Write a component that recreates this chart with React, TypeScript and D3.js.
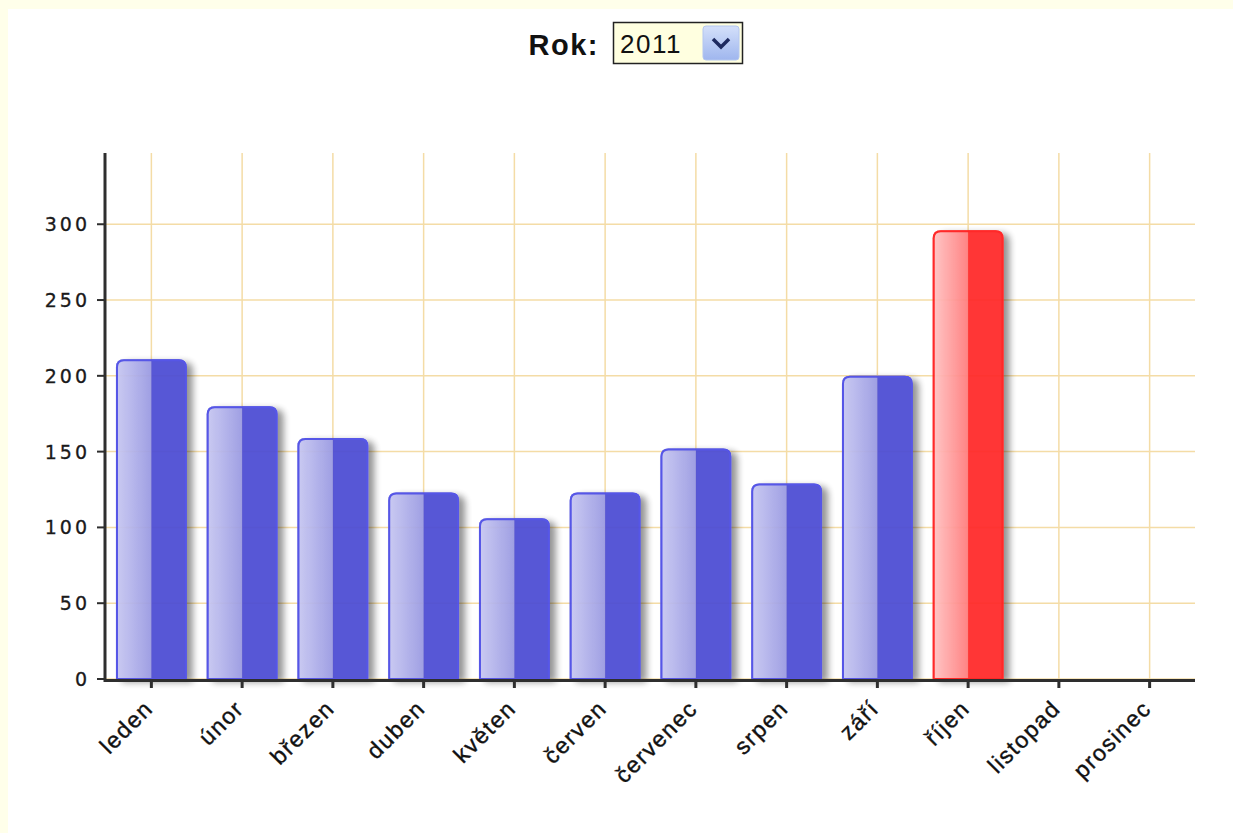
import * as d3 from 'd3';

const months = ['leden', 'únor', 'březen', 'duben', 'květen', 'červen', 'červenec', 'srpen', 'září', 'říjen', 'listopad', 'prosinec'];
const values = [211, 180, 159, 123, 106, 123, 152, 129, 200, 296, 0, 0];
const highlighted = 'říjen';
const yTicks = [0, 50, 100, 150, 200, 250, 300];
const years = ['2011'];

const W = 1233;
const H = 833;
const plot = { left: 105, right: 1195, top: 153, bottom: 679 };

const x = d3.scaleBand<string>().domain(months).range([plot.left + 1, plot.right]);
const y = d3.scaleLinear().domain([0, 347]).range([plot.bottom, plot.top]);
const barW = x.bandwidth() * 0.78;

const gridColor = '#f4dca6';
const axisColor = '#2e2e2e';

function barPath(x0: number, y0: number, w: number, y1: number, r: number) {
  const rr = Math.min(r, (y1 - y0) / 2);
  return `M${x0},${y1} V${y0 + rr} Q${x0},${y0} ${x0 + rr},${y0} H${x0 + w - rr} Q${x0 + w},${y0} ${x0 + w},${y0 + rr} V${y1} Z`;
}

export default function App() {
  return (
    <div style={{ position: 'fixed', inset: 0, background: '#ffffea' }}>
      <svg width={W} height={H} style={{ display: 'block' }} fontFamily="'DejaVu Sans', Verdana, sans-serif">
        <defs>
          <linearGradient id="blueLeft" x1="0" x2="1" y1="0" y2="0">
            <stop offset="0" stopColor="#c8c8f2" />
            <stop offset="1" stopColor="#9a9ae2" />
          </linearGradient>
          <linearGradient id="redLeft" x1="0" x2="1" y1="0" y2="0">
            <stop offset="0" stopColor="#ffc4c4" />
            <stop offset="1" stopColor="#ff7c7c" />
          </linearGradient>
          <linearGradient id="btn" x1="0" x2="0" y1="0" y2="1">
            <stop offset="0" stopColor="#d4e0fa" />
            <stop offset="1" stopColor="#9fb6ee" />
          </linearGradient>
          <filter id="shadow" x="-20%" y="-20%" width="160%" height="140%">
            <feDropShadow dx="6" dy="3" stdDeviation="3.5" floodColor="#000" floodOpacity="0.45" />
          </filter>
        </defs>
        <rect x={8} y={9} width={W - 8} height={H - 9} fill="#fff" />

        {/* year selector */}
        <text x={599} y={55} textAnchor="end" fontSize={29} fontWeight="bold" fontFamily="'Liberation Sans', Arial, sans-serif" fill="#111" letterSpacing={1.5}>Rok:</text>
        <rect x={613.5} y={22.5} width={129} height={41} fill="#ffffe0" stroke="#222" strokeWidth={1.5} />
        <text x={620} y={53} fontSize={26} fontFamily="'Liberation Sans', Arial, sans-serif" fill="#111" letterSpacing={1.5}>{years[0]}</text>
        <rect x={703} y={26} width={36} height={34} rx={3} fill="url(#btn)" stroke="#b4c6f0" />
        <path d="M713,39 L721,47 L729,39" fill="none" stroke="#1e2a60" strokeWidth={3.5} />

        {/* grid */}
        {yTicks.map((t) => (
          <line key={`h${t}`} x1={plot.left} x2={plot.right} y1={y(t)} y2={y(t)} stroke={gridColor} strokeWidth={1.5} />
        ))}
        {months.map((m) => (
          <line key={`v${m}`} x1={x(m)! + x.bandwidth() / 2} x2={x(m)! + x.bandwidth() / 2} y1={plot.top} y2={plot.bottom} stroke={gridColor} strokeWidth={1.5} />
        ))}

        {/* bars */}
        {months.map((m, i) => {
          const v = values[i];
          if (!v) return null;
          const cx = x(m)! + x.bandwidth() / 2;
          const x0 = cx - barW / 2;
          const y0 = y(v);
          const red = m === highlighted;
          return (
            <g key={m} opacity={0.94}>
              <path d={barPath(x0, y0, barW, plot.bottom, 8)} fill={red ? '#ff2a2a' : '#4e4ed4'} filter="url(#shadow)" />
              <clipPath id={`clip${i}`}>
                <path d={barPath(x0, y0, barW, plot.bottom, 8)} />
              </clipPath>
              <rect x={x0} y={y0} width={barW / 2} height={plot.bottom - y0} fill={red ? 'url(#redLeft)' : 'url(#blueLeft)'} clipPath={`url(#clip${i})`} />
              <path d={barPath(x0 + 1, y0 + 1, barW - 2, plot.bottom, 7)} fill="none" stroke={red ? '#ff1c1c' : '#4c4ce6'} strokeWidth={2} />
            </g>
          );
        })}

        {/* axes */}
        <line x1={plot.left} x2={plot.left} y1={plot.top} y2={plot.bottom + 3} stroke={axisColor} strokeWidth={3} />
        <line x1={plot.left} x2={plot.right} y1={plot.bottom + 1.5} y2={plot.bottom + 1.5} stroke={axisColor} strokeWidth={3} />
        {yTicks.map((t) => (
          <g key={`yt${t}`}>
            <line x1={97} x2={plot.left} y1={y(t)} y2={y(t)} stroke={axisColor} strokeWidth={2} />
            <text x={90} y={y(t) + 7} textAnchor="end" fontSize={19} letterSpacing={3} fill="#1a1a1a" stroke="#1a1a1a" strokeWidth={0.3}>{t}</text>
          </g>
        ))}
        {months.map((m) => {
          const cx = x(m)! + x.bandwidth() / 2;
          return (
            <g key={`xt${m}`}>
              <line x1={cx} x2={cx} y1={plot.bottom} y2={plot.bottom + 9} stroke={axisColor} strokeWidth={3} />
              <text transform={`translate(${cx + 3},${plot.bottom + 31}) rotate(-45)`} textAnchor="end" fontSize={23} letterSpacing={1.5} fontFamily="'Liberation Sans', Arial, sans-serif" fill="#111" stroke="#111" strokeWidth={0.4}>{m}</text>
            </g>
          );
        })}
      </svg>
    </div>
  );
}
